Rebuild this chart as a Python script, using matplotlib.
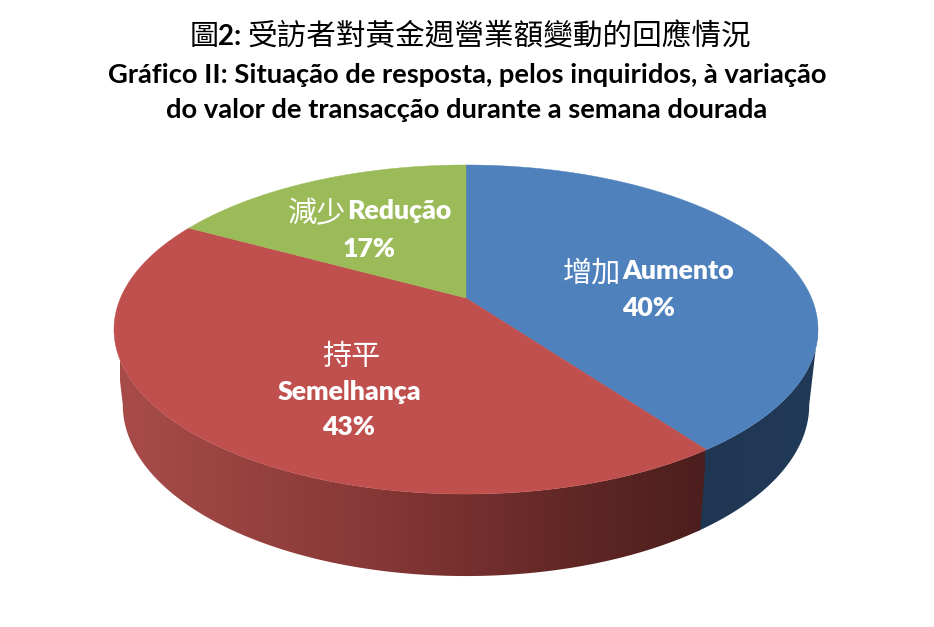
import matplotlib
matplotlib.use("Agg")
import matplotlib.pyplot as plt
import numpy as np
from matplotlib.colors import LinearSegmentedColormap
from matplotlib.patches import Polygon

values = [40, 43, 17]
colors = ["#4F81BD", "#C0504D", "#9BBB59"]

cjk = ["Noto Sans CJK TC", "DejaVu Sans"]
latin = "Lato"

fig = plt.figure(figsize=(9.34, 6.27), dpi=100)
ax = fig.add_axes([0, 0, 1, 1])


# the pie is a flat circle seen in perspective, so the centre sits above the ellipse middle
def top_face(theta):
    u = np.sin(theta)
    v = np.cos(theta)
    d = 1 + 0.1915 * v
    return 466 + 345.5 * u / d, 298 - 158.5 * v / d


def bottom_face(theta):
    x, y = top_face(theta)
    return 466 + 0.975 * (x - 466), 576 + 1.04 * (y - 494)


red_side = LinearSegmentedColormap.from_list(
    "red_side", [(0, "#A84C4A"), (0.45, "#853735"), (0.8, "#5E2624"), (1, "#4C1E1D")])
blue_side = LinearSegmentedColormap.from_list(
    "blue_side", [(0, "#1F3550"), (1, "#213A58")])

edges = np.radians(np.cumsum([0] + values) * 3.6)
gradient = np.linspace(0, 1, 256).reshape(1, -1)

# side walls first, top faces over them. 101 and 259 degrees are where the rim turns away
for i, cmap, extent in [(0, blue_side, (600, 830, 600, 150)), (1, red_side, (120, 705, 600, 150))]:
    start = max(edges[i], np.radians(101))
    stop = min(edges[i + 1] + 0.01, np.radians(259))
    angles = np.linspace(start, stop, 300)
    xt, yt = top_face(angles)
    xb, yb = bottom_face(angles[::-1])
    wall = Polygon(np.c_[np.r_[xt, xb], np.r_[yt, yb]], transform=ax.transData,
                   facecolor="none", edgecolor="none")
    ax.add_patch(wall)
    im = ax.imshow(gradient, extent=extent, cmap=cmap, aspect="auto", interpolation="bilinear")
    im.set_clip_path(wall)

for i, c in enumerate(colors):
    angles = np.linspace(edges[i], edges[i + 1], 200)
    x, y = top_face(angles)
    ax.fill(np.r_[466, x], np.r_[298, y], color=c, lw=0.3)

ax.set_xlim(0, 934)
ax.set_ylim(627, 0)
ax.axis("off")

# title
ax.text(190, 37, "圖", family=cjk, fontsize=21, color="black", va="center")
ax.text(218, 37, "2:", family=latin, weight="bold", fontsize=20, color="black", va="center")
ax.text(247, 37, "受訪者對黃金週營業額變動的回應情況", family=cjk, fontsize=21.3,
        color="black", va="center")
ax.text(467, 75, "Gráfico II: Situação de resposta, pelos inquiridos, à variação",
        family=latin, weight="bold", fontsize=19.7, color="black", ha="center", va="center")
ax.text(467, 110, "do valor de transacção durante a semana dourada",
        family=latin, weight="bold", fontsize=19.7, color="black", ha="center", va="center")

# slice labels
white = dict(color="white", va="center")
bold = dict(family=latin, weight="heavy", fontsize=19.2)
ax.text(563, 274, "增加", family=cjk, fontsize=21, **white)
ax.text(622, 271, "Aumento", **bold, **white)
ax.text(648, 308, f"{values[0]}%", ha="center", **bold, **white)

ax.text(288, 214, "減少", family=cjk, fontsize=21, **white)
ax.text(347, 211, "Redução", **bold, **white)
ax.text(369, 249, f"{values[2]}%", ha="center", **bold, **white)

ax.text(351, 357, "持平", family=cjk, fontsize=21, ha="center", **white)
ax.text(349, 392, "Semelhança", ha="center", **bold, **white)
ax.text(349, 427, f"{values[1]}%", ha="center", **bold, **white)

fig.savefig("out.png", dpi=100)
